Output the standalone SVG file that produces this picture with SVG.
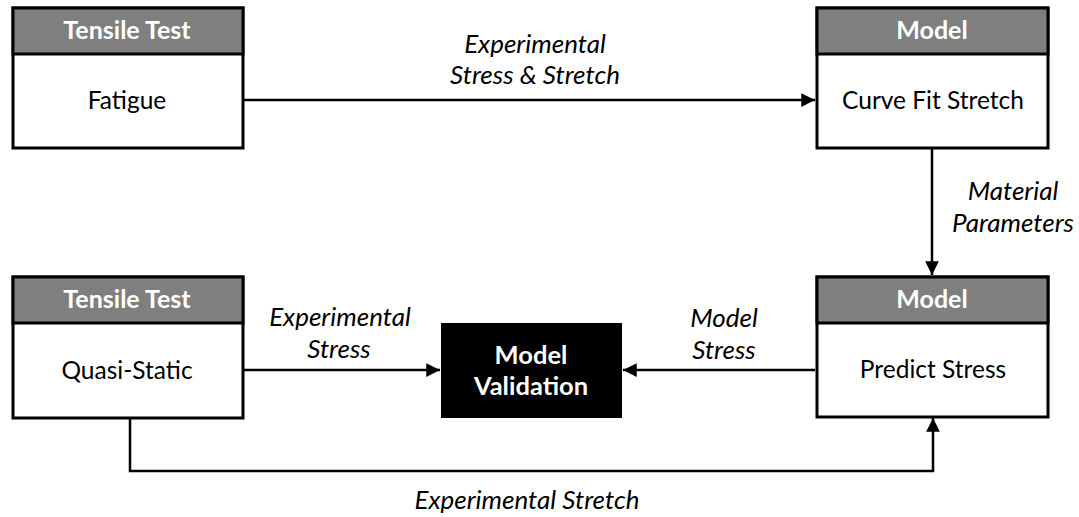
<svg xmlns="http://www.w3.org/2000/svg" width="1079" height="517" viewBox="0 0 1079 517">
<style>
.box{fill:#fff;stroke:#000;stroke-width:3}
.hdr{fill:#7f7f7f;stroke:#000;stroke-width:3}
.ht{font-family:Lato,"Liberation Sans",sans-serif;font-weight:bold;font-size:25px;fill:#fff;text-anchor:middle}
.bt{font-family:Lato,"Liberation Sans",sans-serif;font-size:24.5px;fill:#000;text-anchor:middle}
.lbl{font-family:Lato,"Liberation Sans",sans-serif;font-style:italic;font-size:26px;fill:#000;text-anchor:middle}
.vt{font-family:Lato,"Liberation Sans",sans-serif;font-weight:bold;font-size:25.5px;fill:#fff;text-anchor:middle}
.con{fill:none;stroke:#000;stroke-width:2.5}
</style>
<defs>
<marker id="ah" viewBox="0 0 10 10" refX="10" refY="5" markerWidth="5.5" markerHeight="5.5" orient="auto" markerUnits="strokeWidth">
<path d="M0,0 L10,5 L0,10 z" fill="#000"/>
</marker>
</defs>
<g id="connectors">
<line class="con" x1="244" y1="100" x2="815" y2="100" marker-end="url(#ah)"/>
<line class="con" x1="932" y1="149" x2="932" y2="275" marker-end="url(#ah)"/>
<line class="con" x1="244" y1="370" x2="440" y2="370" marker-end="url(#ah)"/>
<line class="con" x1="815" y1="370" x2="623" y2="370" marker-end="url(#ah)"/>
<polyline class="con" points="130,419 130,471 933,471 933,418" marker-end="url(#ah)"/>
<text class="lbl" x="535" y="53">Experimental</text>
<text class="lbl" x="535" y="84">Stress &amp; Stretch</text>
<text class="lbl" x="1013" y="200">Material</text>
<text class="lbl" x="1013" y="232">Parameters</text>
<text class="lbl" x="340" y="326">Experimental</text>
<text class="lbl" x="339" y="358">Stress</text>
<text class="lbl" x="724" y="327">Model</text>
<text class="lbl" x="724" y="359">Stress</text>
<text class="lbl" x="527" y="509">Experimental Stretch</text>
</g>
<g id="fatigue">
<rect class="box" x="13" y="8" width="230" height="140"/>
<rect class="hdr" x="13" y="8" width="230" height="46"/>
<text class="ht" x="127" y="39">Tensile Test</text>
<text class="bt" x="127" y="109">Fatigue</text>
</g>
<g id="curve-fit">
<rect class="box" x="817" y="8" width="231" height="140"/>
<rect class="hdr" x="817" y="8" width="231" height="46"/>
<text class="ht" x="932" y="39">Model</text>
<text class="bt" x="933" y="109">Curve Fit Stretch</text>
</g>
<g id="quasi-static">
<rect class="box" x="13" y="277" width="230" height="141"/>
<rect class="hdr" x="13" y="277" width="230" height="46"/>
<text class="ht" x="127" y="308">Tensile Test</text>
<text class="bt" x="127" y="379">Quasi-Static</text>
</g>
<g id="predict-stress">
<rect class="box" x="817" y="277" width="231" height="140"/>
<rect class="hdr" x="817" y="277" width="231" height="46"/>
<text class="ht" x="932" y="308">Model</text>
<text class="bt" x="933" y="378">Predict Stress</text>
</g>
<g id="model-validation">
<rect x="441" y="323" width="181" height="95" fill="#000"/>
<text class="vt" x="531" y="364">Model</text>
<text class="vt" x="531" y="395">Validation</text>
</g>
</svg>
